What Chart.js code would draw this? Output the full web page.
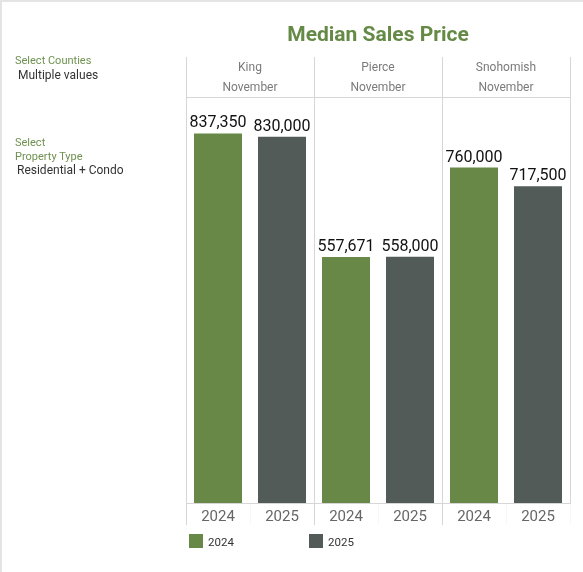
<!DOCTYPE html>
<html>
<head>
<meta charset="utf-8">
<script src="https://cdn.jsdelivr.net/npm/chart.js@4.4.1/dist/chart.umd.min.js"></script>
<style>
  html, body { margin: 0; padding: 0; background: #fff; overflow: hidden; }
  body { width: 583px; height: 572px; position: relative; font-family: Roboto, sans-serif; }
  #frame { position: absolute; left: 0; top: 0; width: 581px; height: 570px;
           border-left: 2px solid #e4e4e4; border-top: 2px solid #e4e4e4; }
  #wrap { position: absolute; left: 0; top: 0; width: 583px; height: 572px; }
  .t { position: absolute; white-space: nowrap; line-height: 1; }
  .lbl { color: #6f9150; font-size: 11px; }
  .val { color: #333; font-size: 12px; }
  #title { left: 0; width: 756px; text-align: center; top: 24px; font-size: 21px;
           font-weight: bold; color: #658a45; }
  .sw { position: absolute; width: 14px; height: 14px; }
  .lg { position: absolute; font-size: 11.5px; color: #333; line-height: 14px; }
</style>
</head>
<body>
<div id="frame"></div>
<div id="wrap"><canvas id="c"></canvas></div>
<div class="t" id="title">Median Sales Price</div>
<div class="t lbl" style="left:15px; top:55px">Select Counties</div>
<div class="t val" style="left:18px; top:69px">Multiple values</div>
<div class="t lbl" style="left:15px; top:137px">Select</div>
<div class="t lbl" style="left:15px; top:151px">Property Type</div>
<div class="t val" style="left:17px; top:164px">Residential + Condo</div>
<div id="legend"></div>
<script>
// data
const counties = ['King', 'Pierce', 'Snohomish'];
const month = 'November';
const years = ['2024', '2025'];
const price2024 = [837350, 557671, 760000];
const price2025 = [830000, 558000, 717500];
const colors = ['#678846', '#535b59'];

const fmt = v => v.toLocaleString('en-US');

// value labels above the bars
const barLabels = {
  id: 'barLabels',
  afterDatasetsDraw(chart) {
    const ctx = chart.ctx;
    ctx.save();
    ctx.font = '16px Roboto';
    ctx.fillStyle = '#111';
    ctx.textAlign = 'center';
    ctx.textBaseline = 'alphabetic';
    chart.data.datasets.forEach((ds, i) => {
      chart.getDatasetMeta(i).data.forEach((bar, j) => {
        ctx.fillText(fmt(ds.data[j]), bar.x, bar.y - 6);
      });
    });
    ctx.restore();
  }
};

const yearLabels = [];
counties.forEach(() => years.forEach(y => yearLabels.push(y)));

new Chart(document.getElementById('c'), {
  type: 'bar',
  data: {
    labels: counties.map(c => [c, month]),
    datasets: [
      { label: years[0], data: price2024, backgroundColor: colors[0] },
      { label: years[1], data: price2025, backgroundColor: colors[1] }
    ]
  },
  options: {
    responsive: true,
    maintainAspectRatio: false,
    animation: false,
    events: [],
    datasets: { bar: { barPercentage: 0.75, categoryPercentage: 1 } },
    layout: { padding: { left: 186, right: 13, top: 57, bottom: 47 } },
    plugins: { legend: { display: false }, tooltip: { enabled: false } },
    scales: {
      x: {
        position: 'top',
        offset: true,
        grid: { offset: true, color: '#d6d6d6', tickLength: 40 },
        border: { color: '#d6d6d6' },
        ticks: { color: '#7a7a7a', font: { family: 'Roboto', size: 12, lineHeight: 1.667 }, padding: -41 },
        afterFit(s) { s.height = 40; }
      },
      x2: {
        type: 'category',
        labels: yearLabels,
        position: 'bottom',
        offset: true,
        grid: {
          offset: true, drawOnChartArea: false, tickLength: 22,
          color: c => (c.index % 2 === 0 ? '#d6d6d6' : 'rgba(0,0,0,0.03)')
        },
        border: { color: '#d6d6d6' },
        ticks: { color: '#666', font: { family: 'Roboto', size: 15 }, padding: -17 },
        afterFit(s) { s.height = 22; }
      },
      y: { display: false, min: 0, max: 920000 }
    }
  },
  plugins: [barLabels]
});

// legend
const lg = document.getElementById('legend');
const legendX = [189, 309];
years.forEach((y, i) => {
  const sw = document.createElement('div');
  sw.className = 'sw';
  sw.style.left = legendX[i] + 'px';
  sw.style.top = '534px';
  sw.style.background = colors[i];
  lg.appendChild(sw);
  const tx = document.createElement('div');
  tx.className = 'lg';
  tx.style.left = (legendX[i] + 19) + 'px';
  tx.style.top = '535px';
  tx.textContent = y;
  lg.appendChild(tx);
});
</script>
</body>
</html>
